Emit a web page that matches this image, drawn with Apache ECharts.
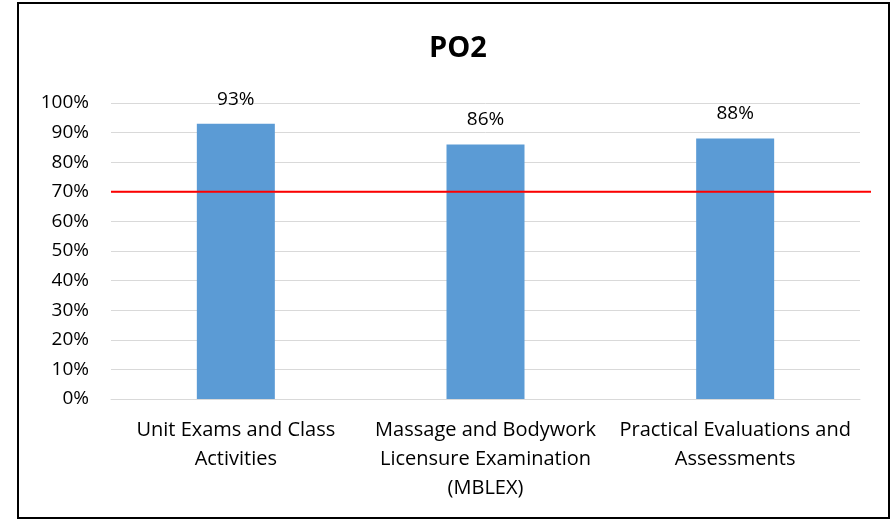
<!DOCTYPE html>
<html>
<head>
<meta charset="utf-8">
<script src="https://cdn.jsdelivr.net/npm/echarts@6/dist/echarts.min.js"></script>
<style>
  html, body { margin: 0; padding: 0; background: #fff; }
  #wrap { position: relative; width: 891px; height: 519px; }
  #chart { width: 891px; height: 519px; }
  #frame {
    position: absolute; left: 17px; top: 2px; width: 869px; height: 513px;
    border: 2px solid #000; pointer-events: none;
  }
</style>
</head>
<body>
<div id="wrap">
  <div id="chart"></div>
  <div id="frame"></div>
</div>
<script>
const categories = [
  'Unit Exams and Class\nActivities',
  'Massage and Bodywork\nLicensure Examination\n(MBLEX)',
  'Practical Evaluations and\nAssessments'
];
const values = [93, 86, 88];
const target = 70;
const yTicks = [0, 10, 20, 30, 40, 50, 60, 70, 80, 90, 100];

const font = 'Open Sans, Liberation Sans, sans-serif';
const myChart = echarts.init(document.getElementById('chart'));

const option = {
  backgroundColor: '#fff',
  animation: false,
  title: {
    text: 'PO2',
    left: 453,
    top: 29,
    textAlign: 'center',
    textStyle: { fontFamily: font, fontSize: 29, fontWeight: 'bold', color: '#000' }
  },
  grid: [
    { left: 111, right: 31, top: 103, bottom: 120 },
    { left: 111, right: 20, top: 103, bottom: 120 }
  ],
  xAxis: [
    {
      type: 'category',
      gridIndex: 0,
      data: categories,
      axisLine: { lineStyle: { color: '#d9d9d9' } },
      axisTick: { show: false },
      axisLabel: { fontFamily: font, fontSize: 20, color: '#000', margin: 17, lineHeight: 29, interval: 0 }
    },
    { type: 'value', gridIndex: 1, min: 0, max: 1, show: false }
  ],
  yAxis: [
    {
      type: 'value',
      gridIndex: 0,
      min: yTicks[0],
      max: yTicks[yTicks.length - 1],
      interval: 10,
      axisLine: { show: false },
      axisTick: { show: false },
      axisLabel: { fontFamily: font, fontSize: 19, color: '#000', margin: 22, formatter: '{value}%' },
      splitLine: { lineStyle: { color: '#d9d9d9', width: 1 } }
    },
    { type: 'value', gridIndex: 1, min: yTicks[0], max: yTicks[yTicks.length - 1], show: false }
  ],
  series: [
    {
      type: 'bar',
      xAxisIndex: 0,
      yAxisIndex: 0,
      data: values,
      barWidth: 78,
      itemStyle: { color: '#5b9bd5' },
      label: {
        show: true,
        position: 'top',
        distance: 15,
        formatter: '{c}%',
        fontFamily: font,
        fontSize: 19,
        color: '#000'
      }
    },
    {
      type: 'line',
      xAxisIndex: 1,
      yAxisIndex: 1,
      data: [[0, target], [1, target]],
      symbol: 'none',
      lineStyle: { color: '#ff0000', width: 2 },
      z: 5
    }
  ]
};

myChart.setOption(option);
</script>
</body>
</html>
